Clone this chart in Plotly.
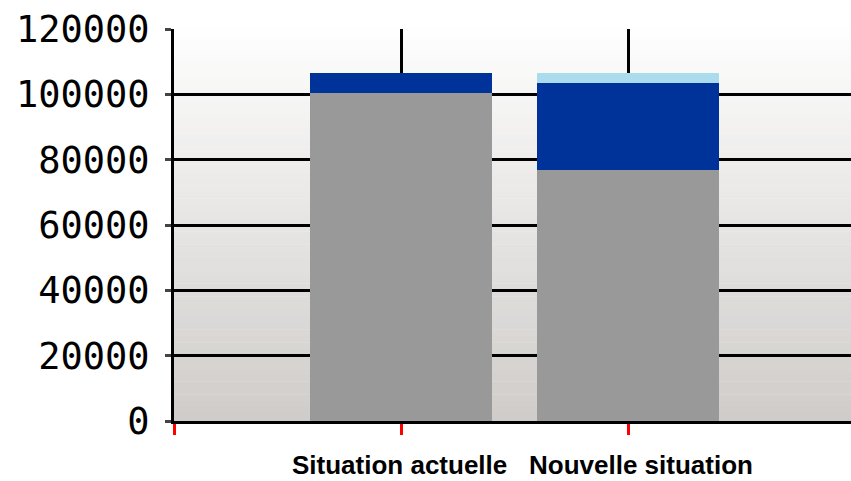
import plotly.graph_objects as go

categories = ["Situation actuelle", "Nouvelle situation"]
cat_pos = [1, 2]
gray_values = [100400, 76900]
darkblue_values = [6100, 26500]
lightblue_values = [0, 3100]
y_ticks = [0, 20000, 40000, 60000, 80000, 100000, 120000]

fig = go.Figure()
fig.add_trace(go.Bar(x=cat_pos, y=gray_values, marker=dict(color="#999999", line=dict(width=0)), width=0.8))
fig.add_trace(go.Bar(x=cat_pos, y=darkblue_values, marker=dict(color="#003399", line=dict(width=0)), width=0.8))
fig.add_trace(go.Bar(x=cat_pos, y=lightblue_values, marker=dict(color="#aadcee", line=dict(width=0)), width=0.8))

# vertical gradient background
n = 60
top = (254, 254, 254)
bot = (207, 204, 201)
shapes = []
for i in range(n):
    t = (i + 0.5) / n
    c = tuple(round(top[k] + (bot[k] - top[k]) * t) for k in range(3))
    shapes.append(dict(type="rect", xref="x domain", yref="y domain",
                       x0=0, x1=1, y0=1 - (i + 1) / n, y1=1 - i / n + 0.001,
                       fillcolor="rgb(%d,%d,%d)" % c, line=dict(width=0), layer="below"))

annotations = []
shifts = [-2, 13]
for i, cat in enumerate(categories):
    annotations.append(dict(x=cat_pos[i], y=0, xref="x", yref="paper", text="<b>%s</b>" % cat,
                            showarrow=False, yanchor="top", yshift=-28, xshift=shifts[i],
                            borderpad=0,
                            font=dict(family="Liberation Sans, Arial", size=26, color="black")))

fig.update_layout(
    width=851, height=481,
    margin=dict(l=174, r=0, t=29, b=60),
    paper_bgcolor="white", plot_bgcolor="white",
    barmode="stack", showlegend=False,
    shapes=shapes, annotations=annotations,
    xaxis=dict(range=[0, 2.982], tickvals=[0, 1, 2, 3], ticktext=["", "", "", ""],
               ticks="outside", ticklen=11, tickwidth=3, tickcolor="#ff0000",
               showgrid=True, gridcolor="black", gridwidth=3, zeroline=False,
               showline=True, linecolor="black", linewidth=3),
    yaxis=dict(range=[0, 120000], tickvals=y_ticks, ticktext=[str(v) for v in y_ticks],
               ticks="outside", ticklen=6, tickwidth=3, tickcolor="#444444",
               ticklabelstandoff=8,
               showgrid=True, gridcolor="black", gridwidth=3, zeroline=False,
               showline=True, linecolor="black", linewidth=3,
               tickfont=dict(family="DejaVu Sans Mono", size=37, color="black")),
)

fig.write_html("out.html", config={"displayModeBar": False},
               post_script="document.body.style.margin='0';document.body.style.overflow='hidden';")
